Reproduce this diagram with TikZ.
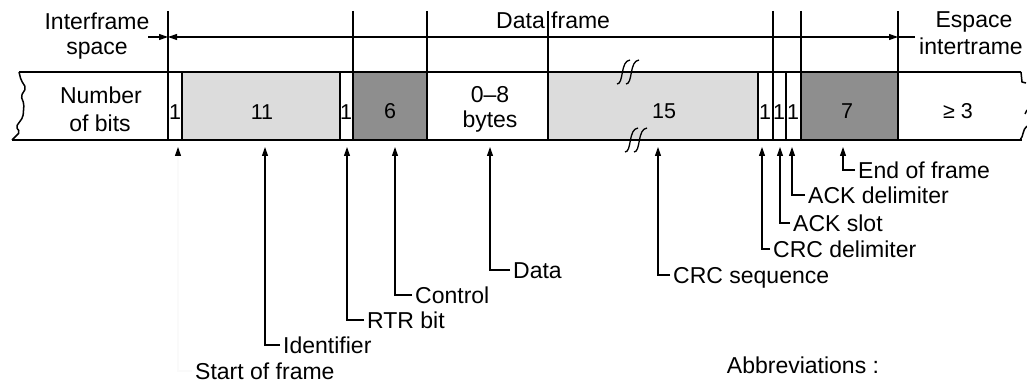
\documentclass[tikz,border=0pt]{standalone}
\usepackage{fontspec}
\setmainfont{Liberation Sans}
\usetikzlibrary{arrows.meta}
\definecolor{lg}{RGB}{220,220,220}
\definecolor{dg}{RGB}{142,142,142}
\begin{document}
\begin{tikzpicture}[x=1pt,y=-1pt,
  lbl/.style={font=\fontsize{23}{26}\selectfont, inner sep=0pt},
  num/.style={font=\fontsize{21.5}{24}\selectfont, inner sep=0pt},
  foot/.style={lbl, anchor=west, inner xsep=3pt, inner ysep=0pt, text height=16.5pt, text depth=0pt},
  cell/.style={minimum height=68pt, inner sep=0pt, anchor=north west, draw=none},
  tipA/.tip={Triangle[length=9pt,width=6pt]},
  arr/.style={line width=1.1pt, -tipA},
  dim/.style={line width=1.1pt},
  sep/.style={line width=1.2pt},
  border/.style={line width=2.3pt},
  brk/.style={line width=1.3pt}]
\useasboundingbox (0,0) rectangle (1027,382);

% filled cells
\node[cell, minimum width=158pt, fill=lg] (idc) at (182,72) {};
\node[cell, minimum width=74pt, fill=dg] (ctlc) at (353,72) {};
\node[cell, minimum width=210pt, fill=lg] (crcc) at (548,72) {};
\node[cell, minimum width=97pt, fill=dg] (eofc) at (801,72) {};

% cell separators
\foreach \x in {182,340,758,786} \draw[sep] (\x,72) -- (\x,140);
\foreach \x in {168,353,427,548,773,801,898} \draw[sep] (\x,11) -- (\x,140);

% frame borders
\draw[border] (19,72) -- (1021,72);
\draw[border] (12,140) -- (1022,140);
\draw[line width=1.5pt, rounded corners=2pt] (19,72) -- (21,80) -- (26,88) -- (21,96) -- (24,104) -- (23,117) -- (16,127) -- (20,132) -- (12,140);
\draw[line width=1.5pt] (1021,72) -- (1022,82) -- (1026,83);
\draw[line width=1.5pt] (1027,110) -- (1025,114);
\draw[line width=1.5pt] (1027,126) .. controls (1022,130) and (1024,136) .. (1020,140);

% break marks
\foreach \d in {0,9} {
  \draw[brk] (617+\d,84) .. controls (624+\d,84) and (620+\d,61) .. (630+\d,60);
  \draw[brk] (625+\d,152) .. controls (632+\d,152) and (628+\d,129) .. (638+\d,128);
}

% dimension line
\coordinate (L0) at (148,37);
\coordinate (L1) at (168,37);
\coordinate (R1) at (898,37);
\coordinate (R0) at (915,37);
\draw[dim, -tipA] (L0) -- (L1);
\draw[dim, tipA-tipA] (L1) -- (R1);
\draw[dim] (R1) -- (R0);

% top labels
\node[lbl, anchor=base] (ifs1) at (97,30) {Interframe};
\node[lbl, anchor=base] (ifs2) at (97,55) {space};
\node[lbl, anchor=base east] (df1) at (545,29) {Data};
\node[lbl, anchor=base west] (df2) at (551,29) {frame};
\node[lbl, anchor=base] (es1) at (974,28) {Espace};
\node[lbl, anchor=base west] (es2) at (919,55) {intertrame};

% cell texts
\node[lbl, anchor=base] (nb1) at (101,104) {Number};
\node[lbl, anchor=base] (nb2) at (100,132) {of bits};
\node[num, anchor=base] (b1) at (175,120) {1};
\node[num, anchor=base] (b11) at (262,120) {11};
\node[num, anchor=base] (b1b) at (346,120) {1};
\node[num, anchor=base] (b6) at (390,119) {6};
\node[lbl, anchor=base] (by1) at (490,103) {0–8};
\node[lbl, anchor=base] (by2) at (490,128) {bytes};
\node[num, anchor=base] (b15) at (664,119) {15};
\node[num, anchor=base] (c1) at (765,120) {1};
\node[num, anchor=base] (c2) at (779,120) {1};
\node[num, anchor=base] (c3) at (793,120) {1};
\node[num, anchor=base] (b7) at (847,119) {7};
\node[num, anchor=base] (b3) at (958,119) {≥ 3};

% pointer labels
\node[foot] (sof) at (192,371) {Start of frame};
\node[foot] (nid) at (280,345) {Identifier};
\node[foot] (nrtr) at (364,320) {RTR bit};
\node[foot] (nctl) at (412,295) {Control};
\node[foot] (ndat) at (510,270) {Data};
\node[foot] (ncrc) at (670,275) {CRC sequence};
\node[foot] (ncrd) at (770,249) {CRC delimiter};
\node[foot] (nacs) at (790,223) {ACK slot};
\node[foot] (nacd) at (805,195) {ACK delimiter};
\node[foot] (neof) at (855,170) {End of frame};

\coordinate (tsof) at (178,147);
\coordinate (tid) at (265,147);
\coordinate (trtr) at (347,147);
\coordinate (tctl) at (395,147);
\coordinate (tdat) at (490,147);
\coordinate (tcrc) at (658,147);
\coordinate (tcrd) at (762,147);
\coordinate (tacs) at (780,147);
\coordinate (tacd) at (792,147);
\coordinate (teof) at (843,147);

\draw[line width=1.1pt, draw=black!2, -{Triangle[length=9pt,width=6pt,color=black]}] (sof.west) -| (tsof);
\draw[arr] (nid.west) -| (tid);
\draw[arr] (nrtr.west) -| (trtr);
\draw[arr] (nctl.west) -| (tctl);
\draw[arr] (ndat.west) -| (tdat);
\draw[arr] (ncrc.west) -| (tcrc);
\draw[arr] (ncrd.west) -| (tcrd);
\draw[arr] (nacs.west) -| (tacs);
\draw[arr] (nacd.west) -| (tacd);
\draw[arr] (neof.west) -| (teof);

\node[lbl, anchor=base] (abb) at (803,373) {Abbreviations :};
\end{tikzpicture}
\end{document}
